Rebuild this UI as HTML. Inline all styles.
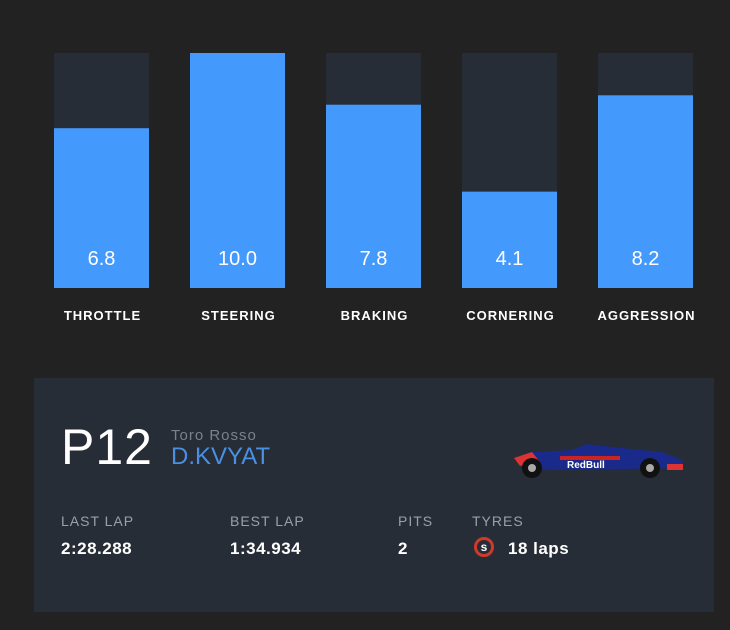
<!DOCTYPE html>
<html><head><meta charset="utf-8"><style>
body{margin:0;width:730px;height:630px;background:#222222;font-family:"Liberation Sans",sans-serif;position:relative;overflow:hidden}
.panel{position:absolute;left:34px;top:378px;width:680px;height:234px;background:#262d36}
.abs{position:absolute}
.lbl{color:#9aa0a8;font-size:14px;letter-spacing:1px}
.val{color:#fff;font-size:17px;font-weight:bold;letter-spacing:0.5px}
</style></head><body>
<svg id="chart" width="730" height="340" style="position:absolute;left:0;top:0"></svg>
<div class="panel">
  <div class="abs" style="left:27px;top:40px;color:#fff;font-size:50px;letter-spacing:1px">P12</div>
  <div class="abs" style="left:137px;top:49px;color:#7b818a;font-size:15px;letter-spacing:1px">Toro Rosso</div>
  <div class="abs" style="left:137px;top:65px;color:#4a90e2;font-size:24px">D.KVYAT</div>
  <svg class="abs" style="left:478px;top:60px" width="175" height="42">
    <path d="M2 20 L20 14 L60 12 L75 6 L110 10 L150 14 L170 22 L172 30 L40 32 L10 28 Z" fill="#1a2a8a"/>
    <path d="M2 20 L20 14 L28 24 L8 28Z" fill="#d33"/>
    <rect x="48" y="18" width="60" height="4" fill="#c22"/>
    <text x="55" y="30" fill="#fff" font-size="10" font-weight="bold" font-family="Liberation Sans">RedBull</text>
    <rect x="155" y="26" width="16" height="6" fill="#d33"/>
    <circle cx="20" cy="30" r="10" fill="#111"/><circle cx="20" cy="30" r="4" fill="#aaa"/>
    <circle cx="138" cy="30" r="10" fill="#111"/><circle cx="138" cy="30" r="4" fill="#aaa"/>
  </svg>
  <div class="abs lbl" style="left:27px;top:135px">LAST LAP</div>
  <div class="abs val" style="left:27px;top:161px">2:28.288</div>
  <div class="abs lbl" style="left:196px;top:135px">BEST LAP</div>
  <div class="abs val" style="left:196px;top:161px">1:34.934</div>
  <div class="abs lbl" style="left:364px;top:135px">PITS</div>
  <div class="abs val" style="left:364px;top:161px">2</div>
  <div class="abs lbl" style="left:438px;top:135px">TYRES</div>
  <div class="abs" style="left:440px;top:159px;width:20px;height:20px;border:3px solid #d0392b;border-radius:50%;box-sizing:border-box;color:#fff;font-size:12px;font-weight:bold;text-align:center;line-height:14px">s</div>
  <div class="abs val" style="left:474px;top:161px">18 laps</div>
</div>
<script>
const categories=["THROTTLE","STEERING","BRAKING","CORNERING","AGGRESSION"];
const values=[6.8,10.0,7.8,4.1,8.2];
const maxVal=10;
const svg=document.getElementById('chart');
const NS='http://www.w3.org/2000/svg';
const top0=53,bottom0=288,x0=54,pitch=136,bw=95;
function y(v){return bottom0-(v/maxVal)*(bottom0-top0);}
function x(i){return x0+i*pitch;}
categories.forEach((c,i)=>{
  const bg=document.createElementNS(NS,'rect');
  
  
  bg.setAttribute('x',x(i));bg.setAttribute('y',top0);bg.setAttribute('width',bw);bg.setAttribute('height',bottom0-top0);bg.setAttribute('fill','#262d36');
  svg.appendChild(bg);
  const r=document.createElementNS(NS,'rect');
  
  
  r.setAttribute('x',x(i));r.setAttribute('y',y(values[i]));r.setAttribute('width',bw);r.setAttribute('height',bottom0-y(values[i]));r.setAttribute('fill','#4499fd');
  svg.appendChild(r);
  const t=document.createElementNS(NS,'text');
  
  
  t.setAttribute('x',x(i)+bw/2);t.setAttribute('y',265);t.setAttribute('text-anchor','middle');t.setAttribute('fill','#fff');t.setAttribute('font-size','20');t.setAttribute('font-family','Liberation Sans');
  t.textContent=values[i].toFixed(1);svg.appendChild(t);
  const l=document.createElementNS(NS,'text');
  
  
  l.setAttribute('x',x(i)+bw/2+1);l.setAttribute('y',320);l.setAttribute('text-anchor','middle');l.setAttribute('fill','#fff');l.setAttribute('font-size','13');l.setAttribute('font-weight','bold');l.setAttribute('letter-spacing','1');l.setAttribute('font-family','Liberation Sans');
  l.textContent=c;svg.appendChild(l);
});
</script>
</body></html>
